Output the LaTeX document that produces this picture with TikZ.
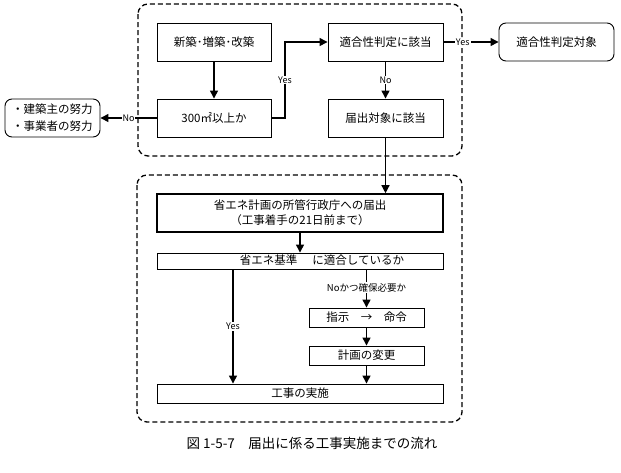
\documentclass[tikz,border=0pt]{standalone}
\usepackage{fontspec}
\setmainfont{Noto Sans CJK JP}
\usetikzlibrary{arrows.meta}
\begin{document}
\begin{tikzpicture}[x=1pt,y=-1pt,
  box/.style={draw,line width=0.9pt,inner sep=0pt,align=center,font=\fontsize{11.5}{14}\selectfont},
  rbox/.style={box,rounded corners=7pt},
  conn/.style={line width=1.3pt,-{Triangle[length=8pt,width=8pt]}},
  line/.style={line width=1.3pt},
  lab/.style={fill=white,inner sep=1pt,font=\fontsize{9}{10}\selectfont},
  frame/.style={line width=1.3pt,dash pattern=on 5pt off 3pt,rounded corners=10pt}]
\useasboundingbox (0,0) rectangle (621,472);
\draw[frame] (138,4) rectangle (462,156);
\draw[frame] (137,175) rectangle (462,422);

\node[box,minimum width=114pt,minimum height=38pt] (n1) at (214,42) {新築･増築･改築};
\node[box,minimum width=114pt,minimum height=38pt] (n2) at (214,118) {300㎡以上か};
\node[box,minimum width=115pt,minimum height=38pt] (n3) at (385.5,42) {適合性判定に該当};
\node[box,minimum width=115pt,minimum height=38pt] (n4) at (385.5,118) {届出対象に該当};
\node[rbox,minimum width=115pt,minimum height=38pt] (n5) at (556.5,42) {適合性判定対象};
\node[rbox,minimum width=95pt,minimum height=38pt,align=left,font=\fontsize{11.5}{17}\selectfont] (n6) at (52.5,118) {・建築主の努力\\・事業者の努力};

\node[box,line width=1.6pt,minimum width=286pt,minimum height=38pt,font=\fontsize{11.5}{15}\selectfont] (n7) at (300,213) {省エネ計画の所管行政庁への届出\\（工事着手の21日前まで）};
\node[box,minimum width=286pt,minimum height=16pt] (n8) at (300,261) {};
\node[font=\fontsize{11.5}{14}\selectfont,inner sep=0pt] (n8t) at (322,260.5) {省エネ基準\hspace{1.3em}に適合しているか};
\node[box,minimum width=115pt,minimum height=19pt] (n9) at (366.5,317.5) {指示　→　命令};
\node[box,minimum width=115pt,minimum height=19pt] (n10) at (366.5,355.5) {計画の変更};
\node[box,minimum width=286pt,minimum height=19pt] (n11) at (300,393.5) {工事の実施};

\coordinate (yb) at (285,118);
\coordinate (ys) at (233,269);

\draw[conn] (n1) -- (n2);
\draw[conn] (n2) -- node[lab,pos=0.5]{No} (n6);
\draw[conn] (n2.east) -- (yb) |- node[lab,pos=0.25]{Yes} (n3.west);
\draw[conn] (n3) -- node[lab,pos=0.35]{Yes} (n5);
\draw[conn] (n3) -- node[lab]{No} (n4);
\draw[conn] (n4.south) -- (n4.south |- n7.north);
\draw[conn] (n7) -- (n8);
\draw[conn] (n8.south -| ys) -- node[lab,pos=0.5]{Yes} (n11.north -| ys);
\draw[conn] (n8.south -| n9.north) -- node[lab,pos=0.48,font=\fontsize{9.5}{11}\selectfont]{Noかつ確保必要か} (n9.north);
\draw[conn] (n9) -- (n10);
\draw[conn] (n10.south) -- (n10.south |- n11.north);

\node[font=\fontsize{13.5}{15}\selectfont,inner sep=0pt] (cap) at (312,443) {図 1-5-7　届出に係る工事実施までの流れ};
\end{tikzpicture}
\end{document}
